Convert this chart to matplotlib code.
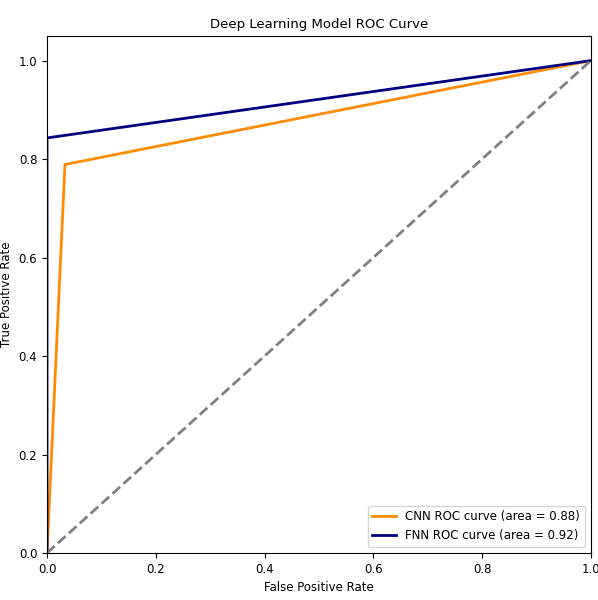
import matplotlib
matplotlib.use('Agg')
import matplotlib.pyplot as plt

# ROC points
cnn_fpr = [0.0, 0.033, 1.0]
cnn_tpr = [0.0, 0.789, 1.0]
fnn_fpr = [0.0, 0.0, 1.0]
fnn_tpr = [0.0, 0.843, 1.0]
cnn_auc = 0.88
fnn_auc = 0.92

fig = plt.figure(figsize=(5.98, 6.0), dpi=100)
ax = fig.add_axes([0.0786, 0.0783, 0.9094, 0.8617])

ax.plot(cnn_fpr, cnn_tpr, color='darkorange', lw=2,
        label='CNN ROC curve (area = %0.2f)' % cnn_auc)
ax.plot(fnn_fpr, fnn_tpr, color='navy', lw=2,
        label='FNN ROC curve (area = %0.2f)' % fnn_auc)
ax.plot([0, 1], [0, 1], color='grey', lw=2, linestyle='--')

ax.set_xlim([0.0, 1.0])
ax.set_ylim([0.0, 1.05])
ax.set_xlabel('False Positive Rate', fontsize=8.5)
ax.set_ylabel('True Positive Rate', fontsize=8.5)
ax.set_title('Deep Learning Model ROC Curve', fontsize=9.5)
ax.tick_params(labelsize=8.5)
ax.legend(loc='lower right', fontsize=8.5)

fig.savefig('out.png', dpi=100)
